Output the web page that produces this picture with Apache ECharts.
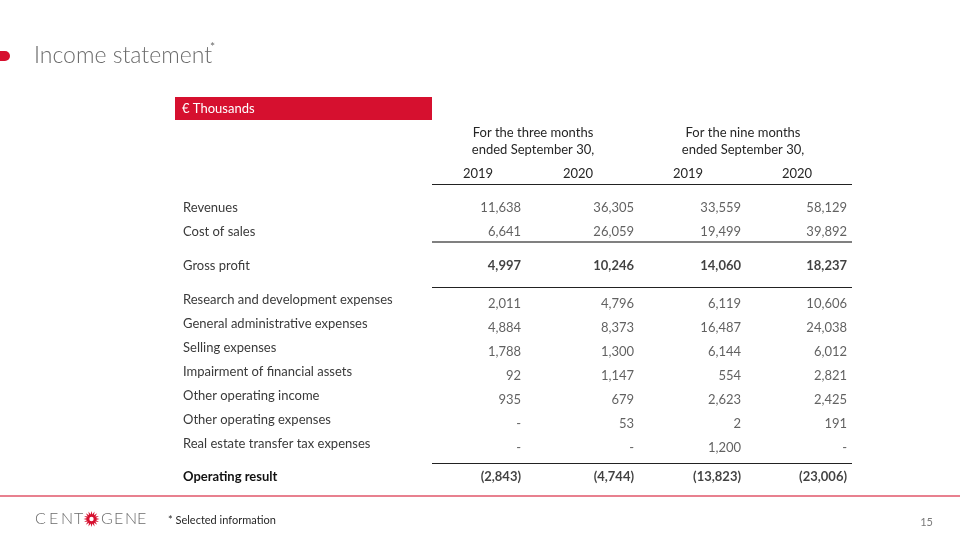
<!DOCTYPE html>
<html><head><meta charset="utf-8">
<script src="https://cdn.jsdelivr.net/npm/echarts@6/dist/echarts.min.js"></script>
<style>html,body{margin:0;padding:0;background:#fff}#c{width:960px;height:540px}</style>
</head><body><div id="c"></div>
<script>
// ---- data ----
const rowNames = ['Revenues','Cost of sales','Gross profit','Research and development expenses','General administrative expenses','Selling expenses','Impairment of financial assets','Other operating income','Other operating expenses','Real estate transfer tax expenses','Operating result'];
const q3_2019 = [11638, 6641, 4997, 2011, 4884, 1788, 92, 935, null, null, -2843];
const q3_2020 = [36305, 26059, 10246, 4796, 8373, 1300, 1147, 679, 53, null, -4744];
const m9_2019 = [33559, 19499, 14060, 6119, 16487, 6144, 554, 2623, 2, 1200, -13823];
const m9_2020 = [58129, 39892, 18237, 10606, 24038, 6012, 2821, 2425, 191, null, -23006];
const yearLabels = ['2019','2020','2019','2020'];
const periodLabels = ['For the three months\nended September 30,','For the nine months\nended September 30,'];
const sections = [[0,1],[2],[3,4,5,6,7,8,9],[10]];
const boldRows = [2,10];
const boldLabelRows = [10];

// ---- layout ----
const columns = [q3_2019, q3_2020, m9_2019, m9_2020];
const FONT = 'Lato, "Open Sans", sans-serif';
const gridTops = [196, 254, 292, 465];
const rowH = 24;
const colOffsets = [36.5, 44.5, 46.5, 47.5];
const yearPad = [13, 23, 13, 5];
const fmt = v => v == null ? '-' : (v < 0 ? '(' + Math.abs(v).toLocaleString('en-US') + ')' : v.toLocaleString('en-US'));

const grid = [], xAxis = [], yAxis = [], series = [];
sections.forEach((rows, s) => {
  grid.push({left: 432, right: 108, top: gridTops[s], height: rows.length * rowH});
  xAxis.push({
    type: 'category', gridIndex: s, data: yearLabels, position: 'top',
    axisLine: {show: false}, axisTick: {show: false}, splitLine: {show: false},
    axisLabel: s === 0 ? {
      show: true, margin: 16, color: '#262626', fontFamily: FONT, fontSize: 13,
      formatter: (v, i) => '{y' + i + '|' + v + '}',
      rich: {y0: {padding: [0, yearPad[0], 0, 0]}, y1: {padding: [0, yearPad[1], 0, 0]}, y2: {padding: [0, yearPad[2], 0, 0]}, y3: {padding: [0, yearPad[3], 0, 0]}}
    } : {show: false}
  });
  const labelBold = rows.some(r => boldLabelRows.includes(r));
  yAxis.push({
    type: 'category', gridIndex: s, inverse: true, data: rows.map(r => rowNames[r]),
    axisLine: {show: false}, axisTick: {show: false}, splitLine: {show: false},
    axisLabel: {
      show: true, align: 'left', margin: 249, fontFamily: FONT, fontSize: 13,
      color: '#3a3a3a', fontWeight: labelBold ? 'bold' : 'normal',
      formatter: v => '{t|' + v + '}',
      rich: {t: {fontFamily: FONT, fontSize: 13, color: labelBold ? '#111' : '#3a3a3a', fontWeight: labelBold ? 'bold' : 'normal', padding: s === 2 ? [0, 0, 9, 0] : [0, 0, 0, 0]}}
    }
  });
  columns.forEach((col, c) => {
    const bold = rows.some(r => boldRows.includes(r));
    series.push({
      type: 'scatter', xAxisIndex: s, yAxisIndex: s, symbolSize: 1, silent: true,
      itemStyle: {color: 'rgba(0,0,0,0)'},
      data: rows.map((r, i) => [c, i]),
      label: {
        show: true, position: 'inside', align: 'right', verticalAlign: 'middle',
        offset: [colOffsets[c], 0], fontFamily: FONT, fontSize: 13,
        formatter: p => fmt(col[rows[p.dataIndex]]),
        color: bold ? '#111' : '#3a3a3a',
        fontWeight: bold ? 'bold' : 'normal'
      }
    });
  });
});

// sunburst logo polygon (decorative)
const starPts = [];
for (let k = 0; k < 32; k++) {
  const a = k * Math.PI / 16, r = k % 2 === 0 ? 8 : 4.5;
  starPts.push([91.5 + r * Math.cos(a), 519 + r * Math.sin(a)]);
}

const line = (x1, x2, y, color, w) => ({type: 'line', shape: {x1, y1: y, x2, y2: y}, style: {stroke: color, lineWidth: w}, silent: true});
const logoLetters = [['C', 35], ['E', 49], ['N', 61], ['T', 74], ['G', 101], ['E', 114], ['N', 125], ['E', 137]];

const graphic = [
  {type: 'rect', shape: {x: 0, y: 51, width: 10, height: 10, r: [0, 5, 5, 0]}, style: {fill: '#D6102F'}},
  {type: 'text', x: 34, y: 56, style: {text: 'Income statement', font: '300 23px ' + FONT, fill: '#6b6b6b', verticalAlign: 'middle'}},
  {type: 'text', x: 210, y: 47, style: {text: '*', font: '12px ' + FONT, fill: '#6b6b6b', verticalAlign: 'middle'}},
  {type: 'rect', shape: {x: 175, y: 97, width: 257, height: 23}, style: {fill: '#D6102F'}},
  {type: 'text', x: 182, y: 109, style: {text: '€ Thousands', font: '13px ' + FONT, fill: '#fff', verticalAlign: 'middle'}},
  {type: 'text', x: 533, y: 141.5, style: {text: periodLabels[0], font: '13px ' + FONT, fill: '#262626', align: 'center', verticalAlign: 'middle', lineHeight: 17}},
  {type: 'text', x: 743, y: 141.5, style: {text: periodLabels[1], font: '13px ' + FONT, fill: '#262626', align: 'center', verticalAlign: 'middle', lineHeight: 17}},
  line(432, 852, 184.5, '#222', 1),
  line(432, 852, 242, '#808080', 2),
  line(432, 852, 287.5, '#222', 1),
  line(432, 852, 463.5, '#222', 1),
  line(0, 960, 496, '#E8808F', 2),
  ...logoLetters.map(([ch, x]) => ({type: 'text', x, y: 519, style: {text: ch, font: '300 16px ' + FONT, fill: '#6b6b6b', verticalAlign: 'middle'}})),
  {type: 'polygon', shape: {points: starPts}, style: {fill: '#D6102F'}},
  {type: 'circle', shape: {cx: 91.5, cy: 519, r: 2.2}, style: {fill: '#fff'}},
  {type: 'text', x: 168, y: 520, style: {text: '* Selected information', font: '11px ' + FONT, fill: '#262626', verticalAlign: 'middle'}},
  {type: 'text', x: 933, y: 522, style: {text: '15', font: '11px ' + FONT, fill: '#7a7a7a', align: 'right', verticalAlign: 'middle'}}
];

const chart = echarts.init(document.getElementById('c'), null, {renderer: 'canvas'});
chart.setOption({animation: false, backgroundColor: '#fff', grid, xAxis, yAxis, series, graphic});
</script>
</body></html>
